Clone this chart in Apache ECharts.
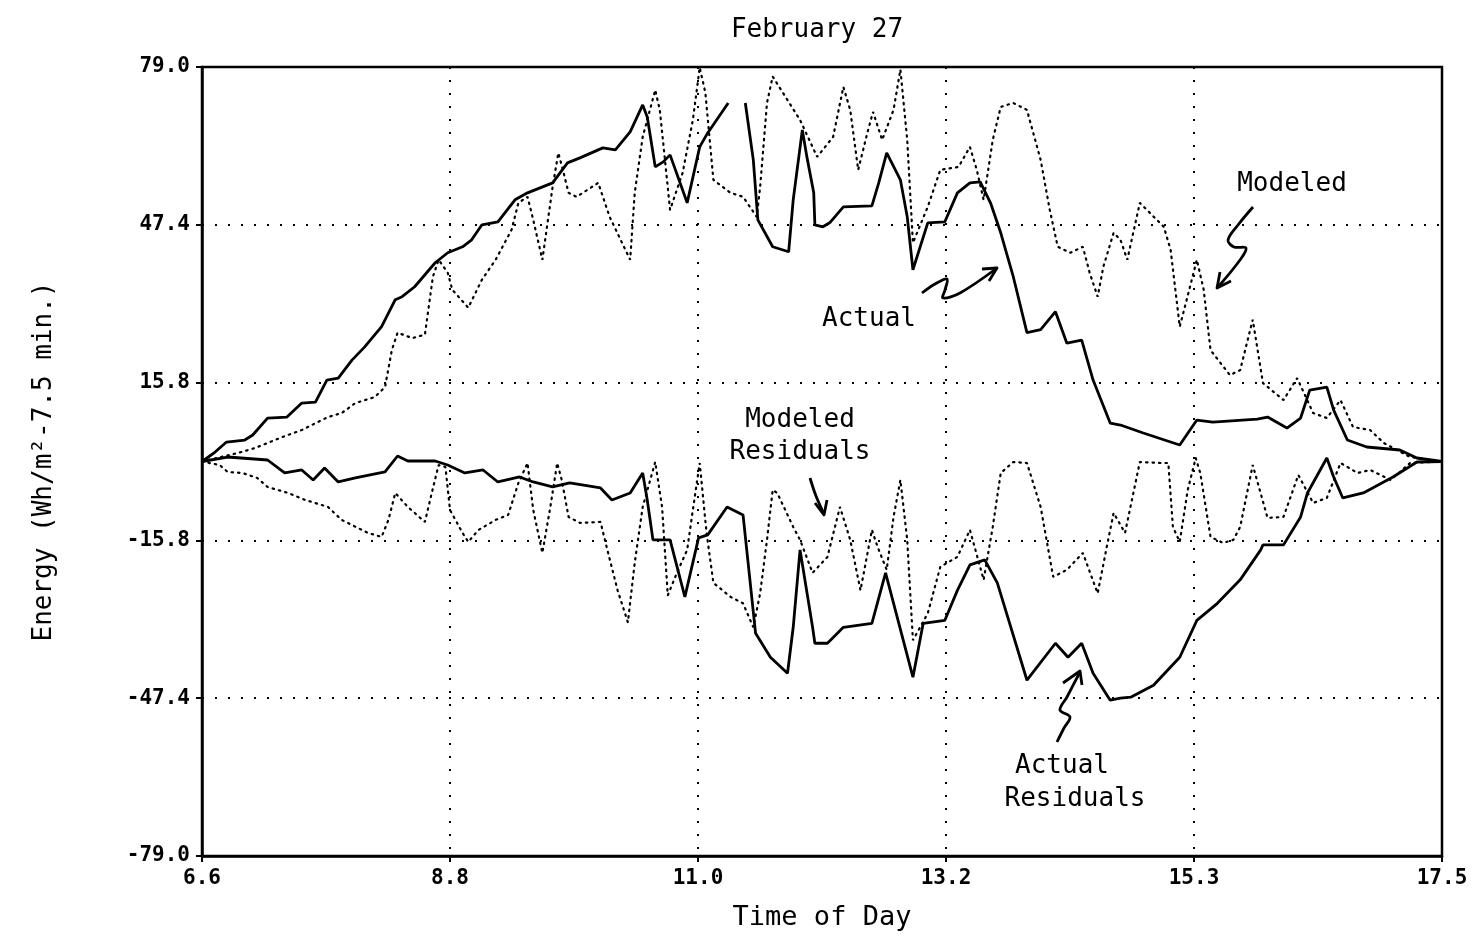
<!DOCTYPE html>
<html>
<head>
<meta charset="utf-8">
<title>February 27</title>
<script src="https://cdn.jsdelivr.net/npm/echarts@6/dist/echarts.min.js"></script>
<style>
    html, body { margin: 0; padding: 0; background: #fff; }
    #chart { width: 1477px; height: 938px; }
</style>
</head>
<body>
<div id="chart"></div>
<script>
// 刻度标签
var xTickLabels = ['6.6', '8.8', '11.0', '13.2', '15.3', '17.5'];
var yTickLabels = ['-79.0', '-47.4', '-15.8', '15.8', '47.4', '79.0'];

// [时间, 能量]  实测
var actual = [
    [6.625, 0], [6.74, 1.9], [6.84, 3.9], [7.00, 4.3], [7.07, 5.3], [7.20, 8.7], [7.37, 8.9],
    [7.50, 11.7], [7.62, 11.9], [7.72, 16.3], [7.82, 16.7], [7.94, 20.3], [8.05, 22.9],
    [8.20, 27.0], [8.32, 32.4], [8.38, 33.0], [8.49, 35.0], [8.67, 39.8], [8.78, 41.8],
    [8.91, 43.0], [8.99, 44.4], [9.08, 47.4], [9.22, 48.0], [9.37, 52.4], [9.48, 53.8],
    [9.70, 55.8], [9.83, 59.8], [9.94, 60.8], [10.14, 62.8], [10.25, 62.4], [10.38, 66.0],
    [10.49, 71.4], [10.53, 69.0], [10.60, 59.0], [10.67, 60.0], [10.73, 61.4], [10.88, 51.8],
    [10.99, 63.0], [11.06, 65.8], [11.24, 71.8], [11.31, null],
    [11.39, 71.8], [11.46, 60.4], [11.50, 48.4], [11.63, 43.0], [11.77, 42.0], [11.81, 52.4],
    [11.89, 66.4], [11.93, 61.0], [11.99, 53.8], [12.00, 47.4], [12.07, 47.0], [12.13, 47.8],
    [12.25, 51.0], [12.50, 51.2], [12.56, 55.8], [12.63, 61.8], [12.75, 56.4], [12.81, 49.0],
    [12.86, 38.4], [12.99, 47.8], [13.14, 48.0], [13.25, 53.8], [13.36, 55.8], [13.45, 56.0],
    [13.54, 51.8], [13.63, 45.8], [13.74, 37.0], [13.86, 25.8], [13.98, 26.4], [14.11, 30.0],
    [14.21, 23.7], [14.34, 24.3], [14.44, 16.3], [14.59, 7.7], [14.68, 7.3], [14.88, 5.7],
    [15.20, 3.3], [15.35, 8.3], [15.49, 7.9], [15.88, 8.5], [15.97, 8.9], [16.14, 6.7],
    [16.26, 8.7], [16.34, 14.3], [16.49, 14.9], [16.55, 10.3], [16.67, 4.3], [16.84, 2.9],
    [17.13, 2.3], [17.28, 0.7], [17.5, 0]
];

// 模拟
var modeled = [
    [6.625, 0], [6.94, 1.7], [7.09, 2.7], [7.33, 4.9], [7.50, 6.3], [7.73, 8.9], [7.85, 9.7],
    [7.97, 11.7], [8.14, 12.9], [8.23, 14.9], [8.29, 22.3], [8.34, 25.8], [8.47, 24.7],
    [8.58, 25.4], [8.61, 30.4], [8.65, 37.0], [8.70, 40.4], [8.78, 37.8], [8.82, 34.4],
    [8.96, 30.8], [9.08, 36.4], [9.20, 40.4], [9.34, 46.4], [9.40, 51.8], [9.48, 53.0],
    [9.53, 48.4], [9.61, 40.4], [9.70, 55.0], [9.75, 61.8], [9.79, 58.4], [9.84, 53.8],
    [9.91, 53.0], [10.10, 55.8], [10.20, 49.0], [10.38, 40.4], [10.42, 53.8], [10.49, 65.0],
    [10.60, 74.4], [10.64, 70.4], [10.67, 63.8], [10.73, 50.4], [10.84, 57.8], [10.93, 68.4],
    [10.99, 78.9], [11.04, 73.8], [11.11, 56.4], [11.26, 53.8], [11.37, 53.0], [11.49, 49.0],
    [11.52, 55.0], [11.58, 71.8], [11.63, 77.1], [11.87, 68.4], [12.02, 61.0], [12.16, 65.0],
    [12.25, 75.0], [12.31, 70.4], [12.38, 58.4], [12.46, 65.8], [12.51, 70.0], [12.59, 64.4],
    [12.69, 70.4], [12.75, 78.5], [12.81, 64.4], [12.86, 43.8], [12.99, 51.0], [13.10, 58.4],
    [13.26, 59.0], [13.36, 63.0], [13.42, 58.4], [13.48, 52.4], [13.56, 64.4], [13.63, 71.0],
    [13.74, 71.8], [13.86, 70.4], [13.98, 60.4], [14.06, 50.4], [14.13, 43.0], [14.24, 41.8],
    [14.35, 43.0], [14.41, 37.8], [14.48, 33.0], [14.53, 39.0], [14.62, 45.8], [14.68, 44.4],
    [14.74, 40.4], [14.85, 51.8], [15.06, 47.0], [15.12, 42.4], [15.20, 27.0], [15.29, 35.0],
    [15.35, 40.4], [15.41, 34.4], [15.47, 22.3], [15.64, 17.3], [15.73, 18.3], [15.84, 28.4],
    [15.93, 15.7], [16.11, 12.3], [16.23, 16.7], [16.37, 9.7], [16.49, 8.7], [16.61, 12.3],
    [16.72, 6.9], [16.87, 6.3], [16.99, 3.7], [17.22, 0.9], [17.5, 0]
];

// 实测残差
var actualResid = [
    [6.625, 0], [6.85, 0.9], [7.20, 0.3], [7.35, -2.3], [7.50, -1.7], [7.60, -3.7], [7.70, -1.3],
    [7.82, -4.1], [7.97, -3.3], [8.23, -2.1], [8.34, 1.1], [8.43, 0.1], [8.67, 0.1], [8.78, -0.7],
    [8.93, -2.3], [9.09, -1.7], [9.22, -4.1], [9.41, -3.1], [9.53, -4.1], [9.70, -5.1],
    [9.85, -4.3], [10.12, -5.3], [10.22, -7.7], [10.38, -6.3], [10.49, -2.3], [10.53, -7.7],
    [10.58, -15.7], [10.73, -15.7], [10.86, -27.1], [10.98, -15.3], [11.06, -14.7], [11.23, -9.1],
    [11.37, -10.7], [11.48, -34.4], [11.61, -39.2], [11.76, -42.4], [11.81, -33.2], [11.87, -17.7],
    [11.98, -33.2], [12.00, -36.4], [12.11, -36.4], [12.25, -33.2], [12.50, -32.4], [12.62, -22.3],
    [12.86, -43.2], [12.95, -32.4], [13.14, -31.8], [13.25, -25.8], [13.36, -20.7], [13.49, -19.7],
    [13.60, -24.3], [13.86, -43.8], [14.11, -36.4], [14.22, -39.2], [14.34, -36.4], [14.44, -42.4],
    [14.59, -47.8], [14.68, -47.4], [14.77, -47.2], [14.97, -44.8], [15.20, -39.2], [15.35, -31.8],
    [15.53, -28.4], [15.73, -23.7], [15.91, -17.7], [15.93, -16.7], [16.11, -16.7], [16.26, -11.1],
    [16.32, -6.3], [16.49, 0.7], [16.55, -3.1], [16.63, -7.3], [16.81, -6.3], [17.07, -3.1],
    [17.28, -0.1], [17.5, 0]
];

// 模拟残差
var modeledResid = [
    [6.625, 0], [6.78, -0.7], [6.85, -2.1], [6.98, -2.3], [7.11, -3.3], [7.20, -5.1], [7.38, -6.3],
    [7.53, -7.7], [7.73, -9.1], [7.85, -11.7], [8.08, -14.3], [8.20, -15.1], [8.26, -11.7],
    [8.32, -6.3], [8.43, -9.1], [8.58, -12.1], [8.64, -6.3], [8.70, -0.7], [8.76, -1.1],
    [8.80, -9.7], [8.91, -14.3], [8.96, -16.1], [9.05, -13.7], [9.20, -11.7], [9.31, -10.7],
    [9.40, -4.3], [9.48, -0.3], [9.53, -9.7], [9.61, -18.3], [9.68, -9.1], [9.74, -0.3],
    [9.78, -3.7], [9.84, -11.1], [9.94, -12.3], [10.12, -12.1], [10.18, -17.7], [10.27, -25.8],
    [10.36, -32.2], [10.42, -20.3], [10.49, -9.1], [10.60, -0.1], [10.66, -9.1], [10.71, -26.8],
    [10.79, -22.3], [10.88, -17.7], [10.93, -9.7], [10.99, -0.3], [11.05, -14.3], [11.11, -24.3],
    [11.26, -27.1], [11.37, -28.4], [11.46, -33.2], [11.52, -26.4], [11.58, -15.7], [11.63, -5.7],
    [11.67, -6.3], [11.81, -13.1], [11.87, -15.7], [11.96, -21.1], [11.98, -22.3], [12.11, -19.1],
    [12.22, -9.1], [12.31, -15.7], [12.40, -25.8], [12.50, -13.7], [12.55, -17.1], [12.63, -21.7],
    [12.69, -11.1], [12.75, -3.7], [12.81, -15.7], [12.86, -35.8], [12.99, -30.4], [13.10, -21.1],
    [13.25, -19.1], [13.36, -13.7], [13.48, -23.7], [13.56, -13.1], [13.63, -2.3], [13.74, -0.1],
    [13.86, -0.3], [13.98, -9.1], [14.09, -23.1], [14.21, -21.7], [14.35, -18.3], [14.48, -26.4],
    [14.56, -17.1], [14.62, -10.3], [14.72, -14.3], [14.85, -0.1], [15.03, -0.3], [15.10, -0.3],
    [15.14, -13.1], [15.20, -16.1], [15.27, -5.7], [15.34, 0.7], [15.38, -2.3], [15.47, -15.1],
    [15.58, -16.3], [15.67, -15.7], [15.73, -13.1], [15.84, -0.7], [15.97, -11.3], [16.11, -11.1],
    [16.24, -2.7], [16.37, -8.3], [16.49, -7.3], [16.61, -0.3], [16.76, -2.3], [16.87, -1.7],
    [17.05, -3.7], [17.22, -0.3], [17.5, 0]
];

var monoFont = "'DejaVu Sans Mono', 'Liberation Mono', monospace";

var solidStyle = { color: '#000', width: 2.8 };
var dotStyle = { color: '#000', width: 2.2, type: [1.5, 5], cap: 'round' };

function lineSeries(name, data, style) {
    return {
        name: name,
        type: 'line',
        data: data,
        showSymbol: false,
        connectNulls: false,
        lineStyle: style,
        silent: true,
        animation: false
    };
}

// 手绘箭头
function squiggle(points, head) {
    return [
        { type: 'polyline', shape: { points: points, smooth: 0.35 },
          style: { stroke: '#000', lineWidth: 2.8, fill: null } },
        { type: 'polyline', shape: { points: head },
          style: { stroke: '#000', lineWidth: 2.8, fill: null, lineJoin: 'round' } }
    ];
}

function annText(text, x, y) {
    return {
        type: 'text', x: x, y: y,
        style: { text: text, font: '26px ' + monoFont, fill: '#000', align: 'center', verticalAlign: 'middle' }
    };
}

var chart = echarts.init(document.getElementById('chart'));

var graphics = []
    .concat(squiggle([[1253, 207], [1238, 225], [1228, 240], [1234, 247], [1246, 248], [1240, 260], [1218, 287]],
        [[1220, 272], [1217, 288], [1231, 281]]))
    .concat(squiggle([[922, 293], [935, 284], [947, 279], [945, 290], [943, 298], [960, 293], [997, 268]],
        [[982, 269], [997, 268], [989, 281]]))
    .concat(squiggle([[810, 478], [816, 496], [824, 514]],
        [[815, 503], [824, 515], [827, 500]]))
    .concat(squiggle([[1057, 742], [1064, 728], [1070, 717], [1060, 710], [1067, 697], [1080, 672]],
        [[1063, 683], [1080, 671], [1082, 685]]));

graphics.push(annText('February 27', 817, 30));
graphics.push(annText('Modeled', 1292, 184));
graphics.push(annText('Actual', 869, 319));
graphics.push(annText('Modeled', 800, 420));
graphics.push(annText('Residuals', 800, 452));
graphics.push(annText('Actual', 1062, 766));
graphics.push(annText('Residuals', 1075, 799));

var option = {
    backgroundColor: '#fff',
    animation: false,
    grid: {
        left: 202, right: 35, top: 67, bottom: 82,
        show: true, borderColor: '#000', borderWidth: 2.5
    },
    xAxis: {
        type: 'value',
        min: 6.625,
        max: 17.5,
        interval: 2.175,
        name: 'Time of Day',
        nameLocation: 'middle',
        nameGap: 48,
        nameTextStyle: { fontFamily: monoFont, fontSize: 27, color: '#000' },
        axisLine: { onZero: false, lineStyle: { color: '#000', width: 2.5 } },
        axisTick: { show: true, length: 6, lineStyle: { color: '#000', width: 2 } },
        axisLabel: {
            margin: 12,
            fontFamily: monoFont, fontWeight: 'bold', fontSize: 21, color: '#000',
            formatter: function (v, i) { return xTickLabels[i]; }
        },
        splitLine: { show: true, lineStyle: { color: '#000', width: 2, type: [2, 11] } }
    },
    yAxis: {
        type: 'value',
        min: -79,
        max: 79,
        interval: 31.6,
        name: 'Energy (Wh/m²-7.5 min.)',
        nameLocation: 'middle',
        nameGap: 145,
        nameTextStyle: { fontFamily: monoFont, fontSize: 26, color: '#000' },
        axisLine: { onZero: false, lineStyle: { color: '#000', width: 2.5 } },
        axisTick: { show: true, length: 6, lineStyle: { color: '#000', width: 2 } },
        axisLabel: {
            margin: 12,
            fontFamily: monoFont, fontWeight: 'bold', fontSize: 21, color: '#000',
            formatter: function (v, i) { return yTickLabels[i]; }
        },
        splitLine: { show: true, lineStyle: { color: '#000', width: 2, type: [2, 11] } }
    },
    series: [
        lineSeries('Actual', actual, solidStyle),
        lineSeries('Modeled', modeled, dotStyle),
        lineSeries('Actual Residuals', actualResid, solidStyle),
        lineSeries('Modeled Residuals', modeledResid, dotStyle)
    ],
    graphic: graphics
};

chart.setOption(option);
</script>
</body>
</html>
